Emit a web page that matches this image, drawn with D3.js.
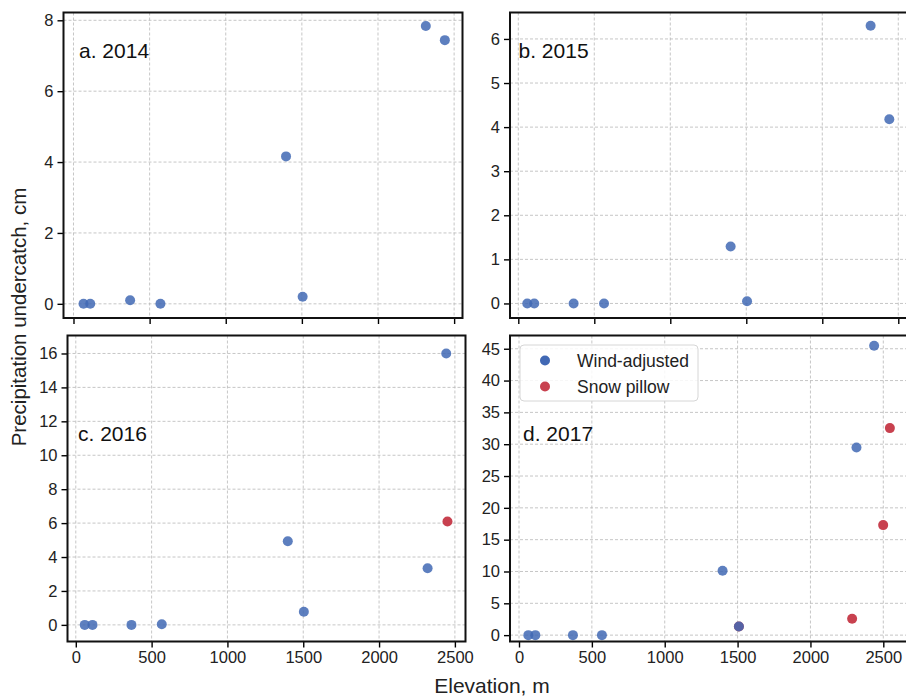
<!DOCTYPE html>
<html>
<head>
<meta charset="utf-8">
<script src="https://cdn.jsdelivr.net/npm/d3@7"></script>
<style>
  html, body { margin: 0; padding: 0; background: #fff; overflow: hidden; }
  svg { display: block; font-family: "Liberation Sans", Arial, sans-serif; }
</style>
</head>
<body>
<div id="holder"></div>
<script>
// values
const panelLabels = ["a. 2014", "b. 2015", "c. 2016", "d. 2017"];
const xTicks = [0, 500, 1000, 1500, 2000, 2500];
const yTicks = [
  [0, 2, 4, 6, 8],
  [0, 1, 2, 3, 4, 5, 6],
  [0, 2, 4, 6, 8, 10, 12, 14, 16],
  [0, 5, 10, 15, 20, 25, 30, 35, 40, 45]
];
const windElevation = [
  [66, 110, 372, 571, 1396, 1505, 2314, 2439],
  [59, 105, 364, 564, 1397, 1505, 2318, 2441],
  [59, 110, 367, 567, 1398, 1504, 2320, 2443],
  [64, 112, 370, 569, 1397, 1509, 2316, 2437]
];
const windUndercatch = [
  [0, 0, 0.10, 0, 4.16, 0.20, 7.84, 7.44],
  [0, 0, 0, 0, 1.29, 0.05, 6.30, 4.18],
  [0, 0, 0, 0.04, 4.93, 0.77, 3.34, 16.0],
  [0, 0, 0, 0, 10.11, 1.36, 29.49, 45.47]
];
const pillowElevation = [[], [], [2451], [2286, 1509, 2499, 2545]];
const pillowUndercatch = [[], [], [6.09], [2.57, 1.36, 17.29, 32.53]];
const legendLabels = ["Wind-adjusted", "Snow pillow"];

// axis limits of each panel (right column runs past the picture edge)
const xLimits = [[-65.6, 2555], [-54.6, 2610], [-54.7, 2570], [-61.8, 2717.5]];
const yLimits = [[-0.40, 8.22], [-0.33, 6.60], [-0.98, 17.06], [-1.0, 47.08]];

// frame of each panel, in pixels
const frames = [
  { x0: 63.5, x1: 462.5, y0: 12.5, y1: 318 },
  { x0: 510, x1: 915, y0: 12.5, y1: 318 },
  { x0: 67.5, x1: 465.5, y0: 335.5, y1: 641.5 },
  { x0: 510, x1: 915, y0: 335.5, y1: 641.5 }
];
const labelOffsets = [[15.5, 45], [8.5, 45], [10.5, 105], [13, 105]];

const width = 906, height = 698;
const blue = "#4168b4", red = "#c8414f";

const svg = d3.select("#holder").append("svg")
  .attr("width", width).attr("height", height);

frames.forEach((f, i) => {
  const x = d3.scaleLinear().domain(xLimits[i]).range([f.x0, f.x1]);
  const y = d3.scaleLinear().domain(yLimits[i]).range([f.y1, f.y0]);
  const g = svg.append("g");
  const bottomRow = i >= 2;

  // grid
  g.append("g").selectAll("line").data(xTicks).join("line")
    .attr("x1", d => x(d)).attr("x2", d => x(d))
    .attr("y1", f.y0).attr("y2", f.y1)
    .attr("stroke", "#b8b8b8").attr("stroke-width", 0.8)
    .attr("stroke-dasharray", "3,2");
  g.append("g").selectAll("line").data(yTicks[i]).join("line")
    .attr("x1", f.x0).attr("x2", Math.min(f.x1, width))
    .attr("y1", d => y(d)).attr("y2", d => y(d))
    .attr("stroke", "#b8b8b8").attr("stroke-width", 0.8)
    .attr("stroke-dasharray", "3,2");

  // axes
  const xAxis = d3.axisBottom(x).tickValues(xTicks).tickSize(6).tickPadding(4)
    .tickFormat(bottomRow ? d3.format("d") : () => "");
  const yAxis = d3.axisLeft(y).tickValues(yTicks[i]).tickSize(6).tickPadding(4)
    .tickFormat(d3.format("d"));

  const gx = g.append("g").attr("transform", `translate(0,${f.y1})`).call(xAxis);
  const gy = g.append("g").attr("transform", `translate(${f.x0},0)`).call(yAxis);
  [gx, gy].forEach(a => {
    a.select(".domain").remove();
    a.selectAll(".tick line").attr("stroke", "#000").attr("stroke-width", 1.4);
    a.selectAll(".tick text").attr("fill", "#222").style("font-size", "16.5px");
  });

  // points
  const pillow = pillowElevation[i].map((e, k) => [e, pillowUndercatch[i][k]]);
  const wind = windElevation[i].map((e, k) => [e, windUndercatch[i][k]]);
  g.append("g").selectAll("circle").data(pillow).join("circle")
    .attr("cx", d => x(d[0])).attr("cy", d => y(d[1])).attr("r", 5)
    .attr("fill", red);
  g.append("g").selectAll("circle").data(wind).join("circle")
    .attr("cx", d => x(d[0])).attr("cy", d => y(d[1])).attr("r", 5)
    .attr("fill", blue).attr("fill-opacity", 0.85);

  // frame: the right side is only drawn when it lies inside the picture
  const path = d3.path();
  path.moveTo(f.x1, f.y0);
  path.lineTo(f.x0, f.y0);
  path.lineTo(f.x0, f.y1);
  path.lineTo(f.x1, f.y1);
  if (f.x1 <= width) path.closePath();
  g.append("path").attr("d", path.toString())
    .attr("fill", "none").attr("stroke", "#111").attr("stroke-width", 2);

  g.append("text")
    .attr("x", f.x0 + labelOffsets[i][0]).attr("y", f.y0 + labelOffsets[i][1])
    .attr("fill", "#111").style("font-size", "21px")
    .text(panelLabels[i]);

  // legend in the last panel
  if (i === 3) {
    const lg = g.append("g");
    lg.append("rect")
      .attr("x", 520).attr("y", 345).attr("width", 178).attr("height", 56)
      .attr("rx", 4).attr("fill", "#fff").attr("fill-opacity", 0.85)
      .attr("stroke", "#d6d6d6").attr("stroke-width", 1);
    legendLabels.forEach((t, k) => {
      lg.append("circle").attr("cx", 545).attr("cy", 360.5 + k * 26).attr("r", 5)
        .attr("fill", k === 0 ? blue : red);
      lg.append("text").attr("x", 577).attr("y", 366.5 + k * 26)
        .attr("fill", "#222").style("font-size", "17.5px").text(t);
    });
  }
});

svg.append("text")
  .attr("transform", "translate(26,317) rotate(-90)")
  .attr("text-anchor", "middle").attr("fill", "#222")
  .style("font-size", "20.5px")
  .text("Precipitation undercatch, cm");

svg.append("text")
  .attr("x", 492).attr("y", 693)
  .attr("text-anchor", "middle").attr("fill", "#222")
  .style("font-size", "21px")
  .text("Elevation, m");
</script>
</body>
</html>
